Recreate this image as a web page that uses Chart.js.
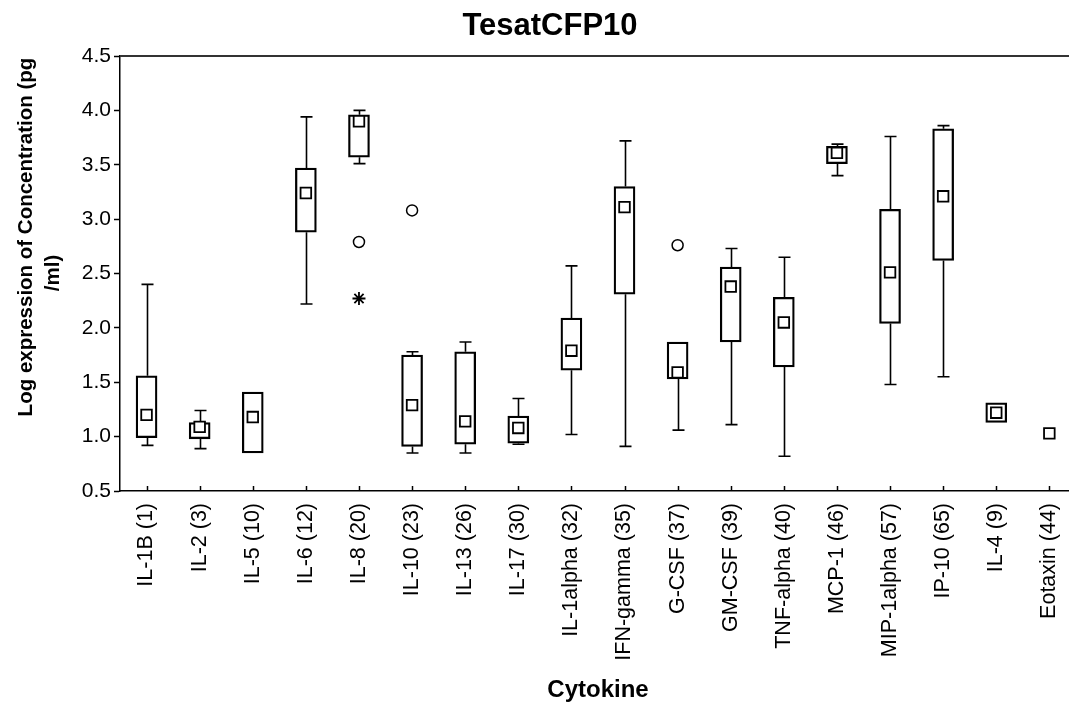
<!DOCTYPE html>
<html>
<head>
<meta charset="utf-8">
<title>TesatCFP10</title>
<script src="https://cdn.jsdelivr.net/npm/chart.js@4.4.0/dist/chart.umd.min.js"></script>
<style>
    html, body { margin: 0; padding: 0; background: #fff; overflow: hidden; }
</style>
</head>
<body>
<canvas id="box-chart" width="1069" height="706"></canvas>
<script>
// Cytokine levels, log10 of pg/ml
var cytokines = ['IL-1B (1)', 'IL-2 (3)', 'IL-5 (10)', 'IL-6 (12)', 'IL-8 (20)', 'IL-10 (23)',
    'IL-13 (26)', 'IL-17 (30)', 'IL-1alpha (32)', 'IFN-gamma (35)', 'G-CSF (37)', 'GM-CSF (39)',
    'TNF-alpha (40)', 'MCP-1 (46)', 'MIP-1alpha (57)', 'IP-10 (65)', 'IL-4 (9)', 'Eotaxin (44)'];
var whiskerLow  = [0.92, 0.89, 0.85, 2.22, 3.51, 0.85, 0.85, 0.93, 1.02, 0.91, 1.06, 1.11, 0.82, 3.40, 1.48, 1.55, 1.13, null];
var boxLow      = [0.99, 0.98, 0.85, 2.88, 3.57, 0.91, 0.93, 0.94, 1.61, 2.31, 1.53, 1.87, 1.64, 3.51, 2.04, 2.62, 1.13, null];
var boxHigh     = [1.56, 1.13, 1.41, 3.47, 3.96, 1.75, 1.78, 1.19, 2.09, 3.30, 1.87, 2.56, 2.28, 3.67, 3.09, 3.83, 1.31, null];
var whiskerHigh = [2.40, 1.24, 1.41, 3.94, 4.00, 1.78, 1.87, 1.35, 2.57, 3.72, 1.87, 2.73, 2.65, 3.69, 3.76, 3.86, 1.31, null];
var means       = [1.20, 1.09, 1.18, 3.24, 3.90, 1.29, 1.14, 1.08, 1.79, 3.11, 1.59, 2.38, 2.05, 3.61, 2.51, 3.21, 1.22, 1.03];
var outlierIdx = [4, 5, 10];
var outlierVal = [2.79, 3.08, 2.76];
var extremeIdx = [4];
var extremeVal = [2.27];
var yTicks = [0.5, 1.0, 1.5, 2.0, 2.5, 3.0, 3.5, 4.0, 4.5];

var FONT = '"Liberation Sans", Arial, sans-serif';
Chart.defaults.font.family = FONT;
Chart.defaults.color = '#000';

var boxData = [], meanData = [];
for (var i = 0; i < cytokines.length; i++) {
    if (boxLow[i] != null) boxData.push({ x: i, y: [boxLow[i], boxHigh[i]] });
    if (means[i] != null) meanData.push({ x: i, y: means[i] });
}
var outlierData = outlierIdx.map(function (c, k) { return { x: c, y: outlierVal[k] }; });
var extremeData = extremeIdx.map(function (c, k) { return { x: c, y: extremeVal[k] }; });

function drawWhisker(ctx, px, from, to) {
    if (Math.abs(from - to) < 0.5) return;
    ctx.beginPath();
    ctx.moveTo(px, from);
    ctx.lineTo(px, to);
    ctx.moveTo(px - 6, to);
    ctx.lineTo(px + 6, to);
    ctx.stroke();
}

// whiskers, frame line, inner x ticks and the titles
var boxExtras = {
    id: 'boxExtras',
    beforeDatasetsDraw: function (chart) {
        var ctx = chart.ctx, xs = chart.scales.x, ys = chart.scales.y;
        ctx.save();
        ctx.strokeStyle = '#000';
        ctx.lineWidth = 1.6;
        for (var i = 0; i < cytokines.length; i++) {
            if (whiskerLow[i] == null) continue;
            var px = Math.round(xs.getPixelForValue(i)) + 0.5;
            drawWhisker(ctx, px, ys.getPixelForValue(boxHigh[i]), ys.getPixelForValue(whiskerHigh[i]));
            drawWhisker(ctx, px, ys.getPixelForValue(boxLow[i]), ys.getPixelForValue(whiskerLow[i]));
        }
        ctx.restore();
    },
    afterDraw: function (chart) {
        var ctx = chart.ctx, xs = chart.scales.x, area = chart.chartArea;
        ctx.save();
        ctx.strokeStyle = '#333';
        ctx.lineWidth = 2;
        ctx.beginPath();
        ctx.moveTo(area.left, area.top);
        ctx.lineTo(area.right, area.top);
        ctx.stroke();

        ctx.strokeStyle = '#000';
        ctx.lineWidth = 1.5;
        ctx.beginPath();
        for (var i = 0; i < cytokines.length; i++) {
            var px = Math.round(xs.getPixelForValue(i)) + 0.5;
            ctx.moveTo(px, area.bottom);
            ctx.lineTo(px, area.bottom - 5);
        }
        ctx.stroke();

        ctx.fillStyle = '#000';
        ctx.textAlign = 'center';
        ctx.textBaseline = 'middle';
        ctx.font = 'bold 31px ' + FONT;
        ctx.fillText('TesatCFP10', 550, 26);
        ctx.font = 'bold 24px ' + FONT;
        ctx.fillText('Cytokine', 598, 690);

        ctx.font = 'bold 20.5px ' + FONT;
        ctx.translate(26, 237);
        ctx.rotate(-Math.PI / 2);
        ctx.fillText('Log expression of Concentration (pg', 0, 0);
        ctx.rotate(Math.PI / 2);
        ctx.translate(27, 36);
        ctx.rotate(-Math.PI / 2);
        ctx.fillText('/ml)', 0, 0);
        ctx.restore();
    }
};

var ctx = document.getElementById('box-chart').getContext('2d');
var boxChart = new Chart(ctx, {
    type: 'bar',
    data: {
        datasets: [
            {
                type: 'bar',
                data: boxData,
                backgroundColor: 'rgba(255,255,255,0)',
                borderColor: '#000',
                borderWidth: 1.6,
                borderSkipped: false,
                barThickness: 21,
                order: 3,
            },
            {
                type: 'scatter',
                data: meanData,
                pointStyle: 'rect',
                pointRadius: 7.5,
                borderWidth: 1.8,
                borderColor: '#000',
                backgroundColor: '#fff',
                order: 2,
            },
            {
                type: 'scatter',
                data: outlierData,
                pointStyle: 'circle',
                pointRadius: 5.5,
                borderWidth: 1.5,
                borderColor: '#000',
                backgroundColor: '#fff',
                order: 1,
            },
            {
                type: 'scatter',
                data: extremeData,
                pointStyle: 'star',
                pointRadius: 6.5,
                borderWidth: 1.8,
                borderColor: '#000',
                order: 0,
            },
        ],
    },
    options: {
        responsive: false,
        animation: false,
        layout: { autoPadding: false, padding: { top: 56, left: 0, right: 0, bottom: 0 } },
        plugins: {
            legend: { display: false },
            tooltip: { enabled: false },
            title: { display: false },
        },
        scales: {
            x: {
                type: 'linear',
                offset: false,
                min: -0.5,
                max: 17.37,
                afterBuildTicks: function (s) {
                    s.ticks = cytokines.map(function (c, i) { return { value: i }; });
                },
                afterFit: function (s) {
                    s.height = 215;
                    s.paddingLeft = 0;
                    s.paddingRight = 0;
                },
                ticks: {
                    autoSkip: false,
                    minRotation: 90,
                    maxRotation: 90,
                    padding: 12,
                    font: { size: 21.5 },
                    color: '#000',
                    callback: function (v) { return cytokines[v]; },
                },
                grid: { display: false, drawTicks: false, offset: false },
                border: { display: true, color: '#000', width: 1.5 },
            },
            y: {
                min: 0.5,
                max: 4.5,
                afterBuildTicks: function (s) {
                    s.ticks = yTicks.map(function (v) { return { value: v }; });
                },
                afterFit: function (s) {
                    s.width = 120;
                    s.paddingTop = 0;
                    s.paddingBottom = 0;
                },
                ticks: {
                    padding: 3,
                    font: { size: 21 },
                    color: '#000',
                    callback: function (v) { return v.toFixed(1); },
                },
                grid: { drawOnChartArea: false, tickLength: 6, tickColor: '#000', tickWidth: 1.5 },
                border: { display: true, color: '#000', width: 1.5 },
            },
        },
    },
    plugins: [boxExtras],
});
</script>
</body>
</html>
